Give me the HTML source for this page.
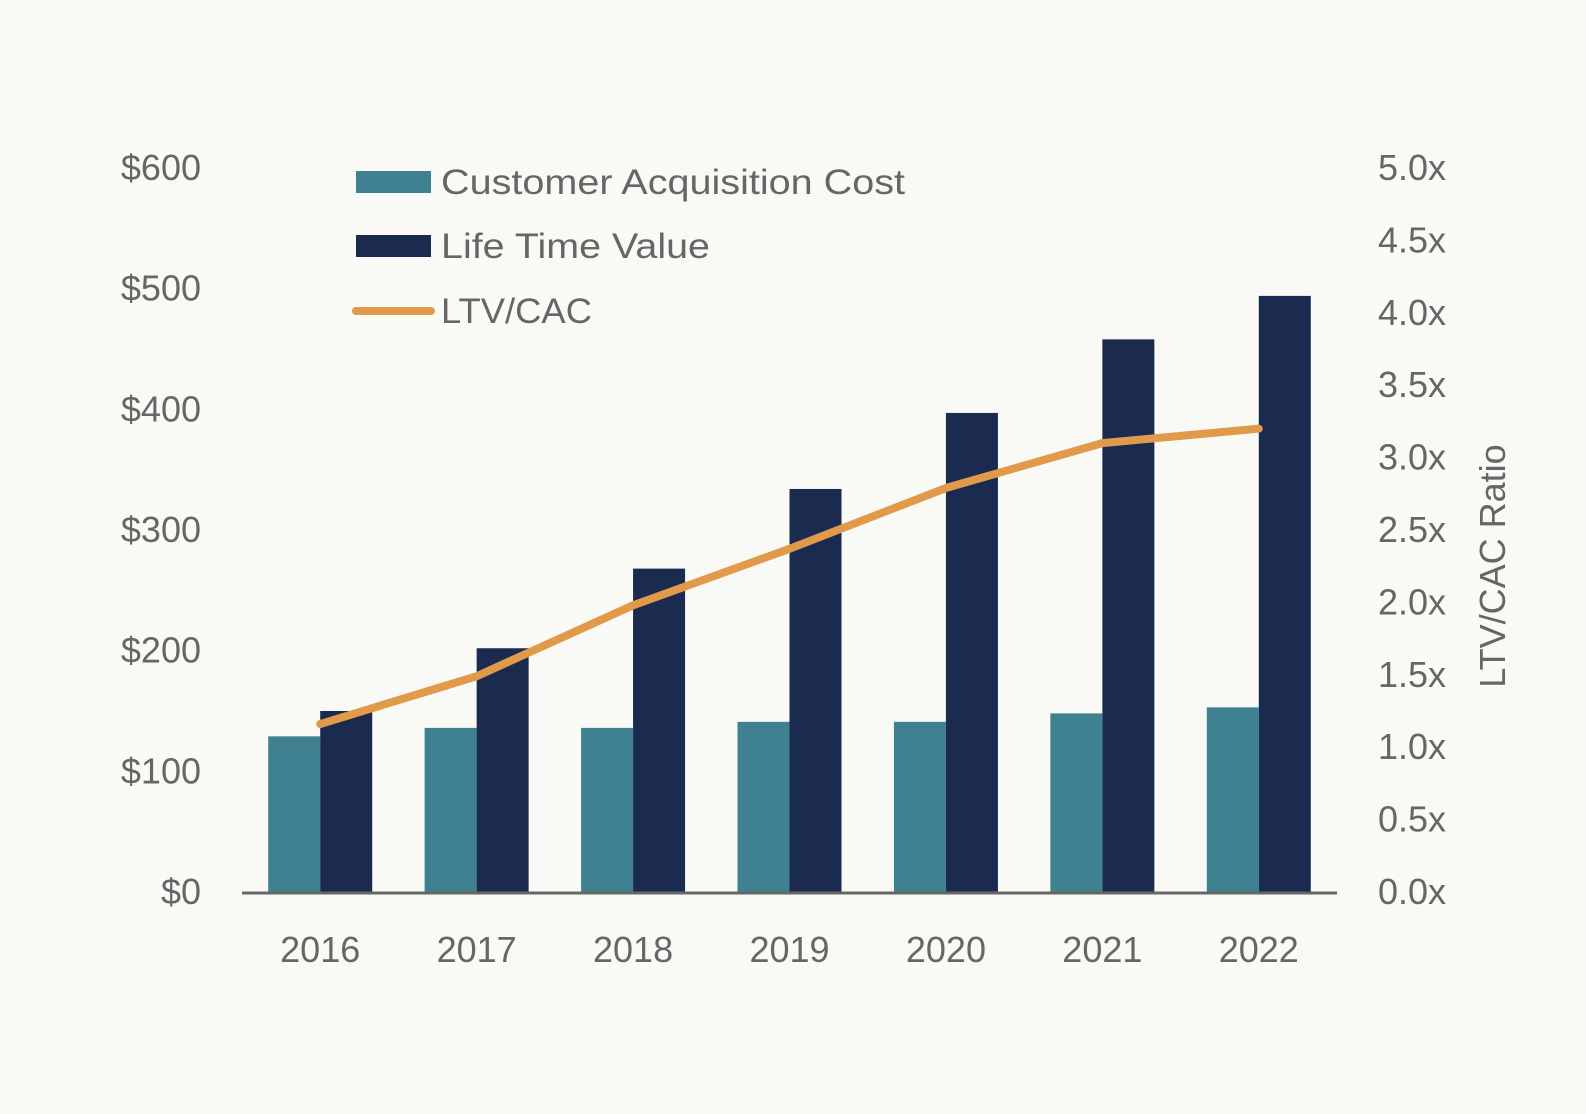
<!DOCTYPE html>
<html><head><meta charset="utf-8"><style>
html,body{margin:0;padding:0;background:#f9f9f5;}
svg{display:block;font-family:"Liberation Sans",sans-serif;}
</style></head><body>
<svg id="chart" width="1586" height="1114" viewBox="0 0 1586 1114">
<rect width="1586" height="1114" fill="#f9f9f5"/>
<g id="plot"></g>
<g id="legend">
  <rect x="356" y="171" width="75" height="22" fill="#3f8191"/>
  <text x="441" y="194" font-size="35" fill="#666" textLength="464" lengthAdjust="spacingAndGlyphs">Customer Acquisition Cost</text>
  <rect x="356" y="235" width="75" height="22" fill="#1b2b50"/>
  <text x="441" y="258" font-size="35" fill="#666" textLength="269" lengthAdjust="spacingAndGlyphs">Life Time Value</text>
  <line x1="356" y1="311" x2="431" y2="311" stroke="#e09a4a" stroke-width="8" stroke-linecap="round"/>
  <text x="441" y="323" font-size="35" fill="#666" textLength="151" lengthAdjust="spacingAndGlyphs">LTV/CAC</text>
</g>
<text transform="translate(1505,566) rotate(-90)" text-anchor="middle" font-size="36" fill="#666">LTV/CAC Ratio</text>
</svg>
<script>
const categories = ["2016","2017","2018","2019","2020","2021","2022"];
const cacValues = [129,136,136,141,141,148,153];
const ltvValues = [150,202,268,334,397,458,494];
const ratioValues = [1.16,1.49,1.98,2.37,2.79,3.10,3.20];
const leftTicks = [0,100,200,300,400,500,600];
const leftTickLabels = ["$0","$100","$200","$300","$400","$500","$600"];
const rightTicks = [0,0.5,1,1.5,2,2.5,3,3.5,4,4.5,5];
const rightTickLabels = ["0.0x","0.5x","1.0x","1.5x","2.0x","2.5x","3.0x","3.5x","4.0x","4.5x","5.0x"];

const NS = "http://www.w3.org/2000/svg";
const X0 = 242, X1 = 1337, Y0 = 892, YT = 168;
const band = (X1 - X0) / categories.length;
const barW = 52;
const yL = v => Y0 - (v / 600) * (Y0 - YT);
const yR = v => Y0 - (v / 5) * (Y0 - YT);
const xC = i => X0 + band * (i + 0.5);
const g = document.getElementById('plot');
function mk(tag, attrs) {
  const e = document.createElementNS(NS, tag);
  for (const k in attrs) e.setAttribute(k, attrs[k]);
  g.appendChild(e);
  return e;
}
leftTicks.forEach((t, i) => {
  const e = mk('text', {x: 201, y: yL(t) + 12, 'text-anchor': 'end', 'font-size': 36, fill: '#666'});
  e.textContent = leftTickLabels[i];
  
  
});
rightTicks.forEach((t, i) => {
  const e = mk('text', {x: 1378, y: yR(t) + 12, 'font-size': 36, fill: '#666'});
  e.textContent = rightTickLabels[i];
  
  
});
categories.forEach((c, i) => {
  const cx = xC(i);
  const b1 = mk('rect', {x: cx - barW, y: yL(cacValues[i]), width: barW, height: Y0 - yL(cacValues[i]), fill: '#3f8191'});
  
  
  const b2 = mk('rect', {x: cx, y: yL(ltvValues[i]), width: barW, height: Y0 - yL(ltvValues[i]), fill: '#1b2b50'});
  
  
  const t = mk('text', {x: cx, y: 962, 'text-anchor': 'middle', 'font-size': 36, fill: '#666'});
  t.textContent = c;
  
  
});
const ax = mk('line', {x1: X0, y1: Y0 + 1, x2: X1, y2: Y0 + 1, stroke: '#666', 'stroke-width': 3});


const pts = ratioValues.map((v, i) => xC(i) + ',' + yR(v)).join(' ');
const line = mk('polyline', {points: pts, fill: 'none', stroke: '#e09a4a', 'stroke-width': 8, 'stroke-linecap': 'round', 'stroke-linejoin': 'round'});


</script>
</body></html>
